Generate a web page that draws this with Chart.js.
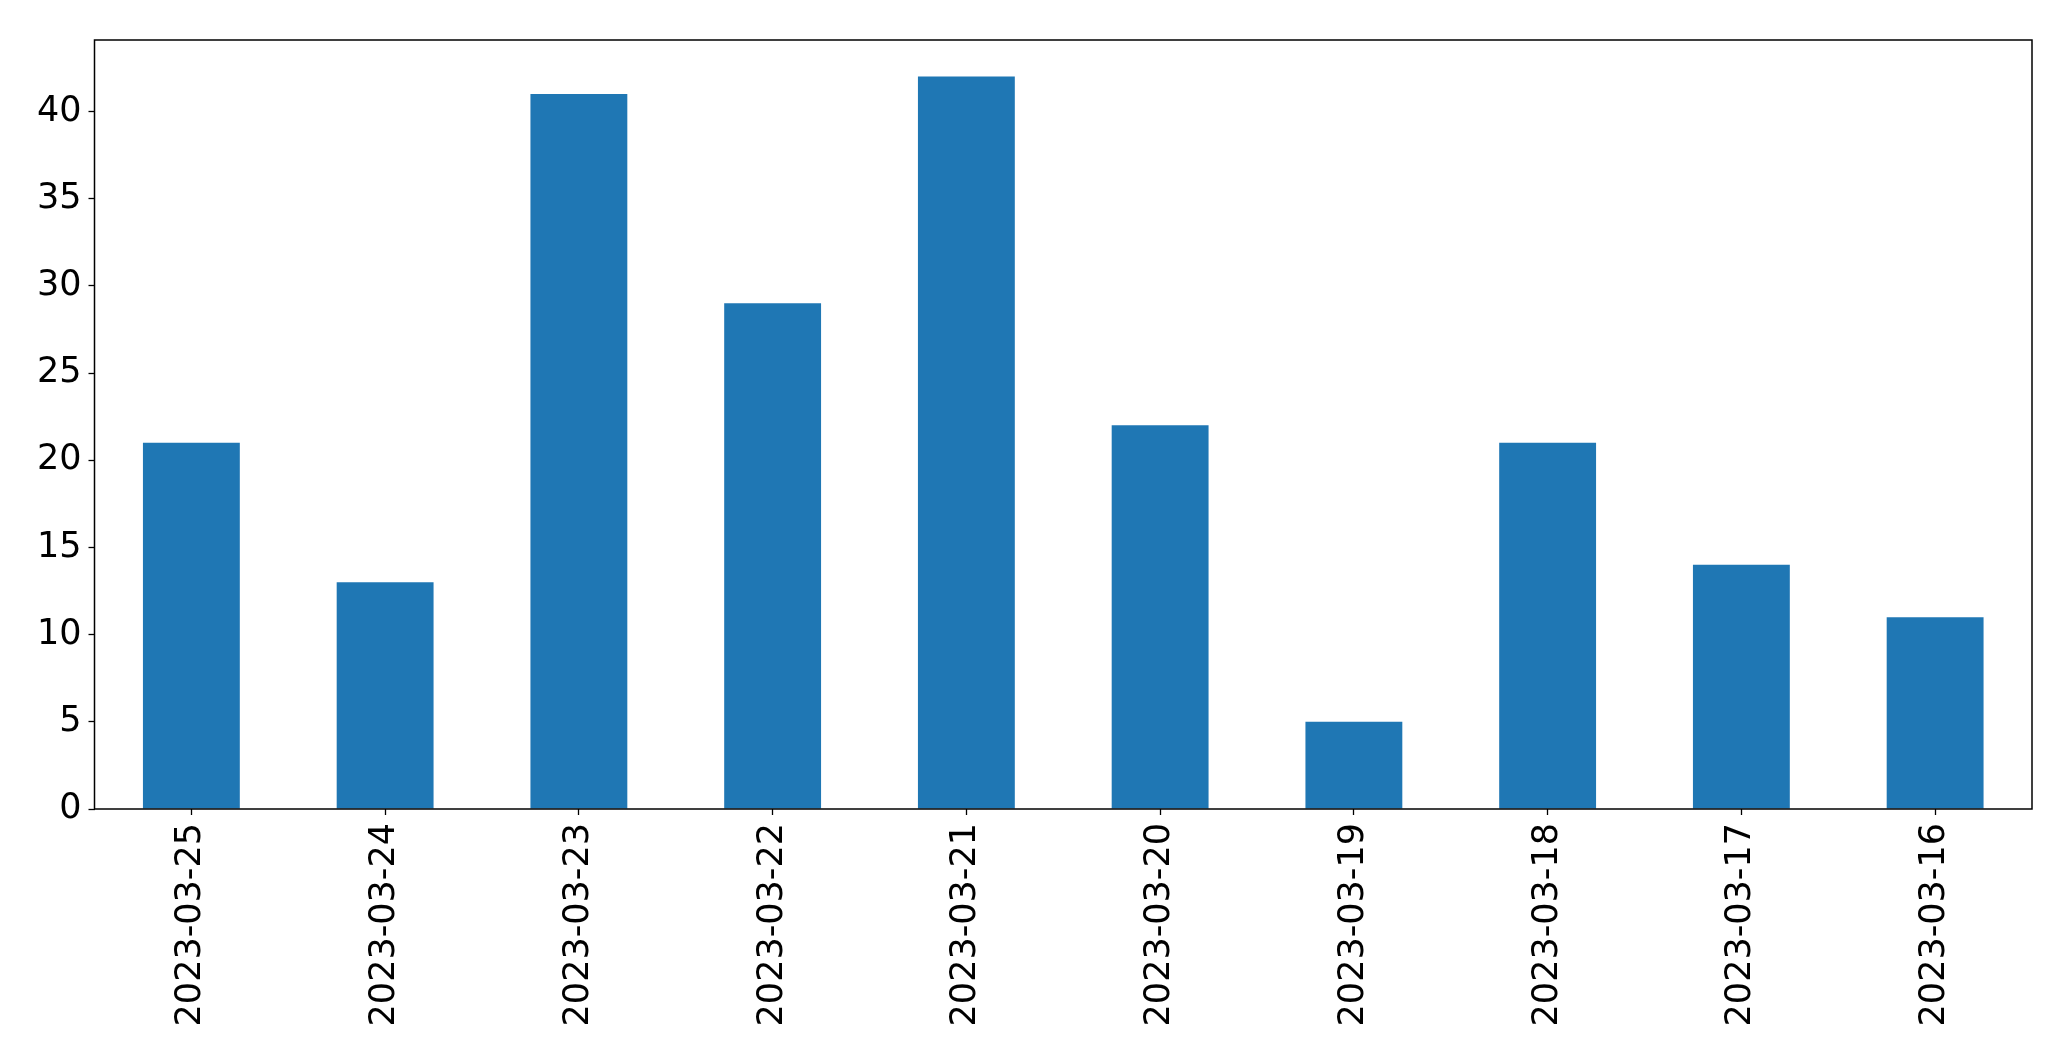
<!DOCTYPE html>
<html>
<head>
<meta charset="utf-8">
<script src="https://cdn.jsdelivr.net/npm/chart.js@4/dist/chart.umd.min.js"></script>
<style>
  html, body { margin: 0; padding: 0; background: #fff; }
  #wrap { width: 2071px; height: 1061px; }
</style>
</head>
<body>
<div id="wrap"><canvas id="myChart" width="2071" height="1061"></canvas></div>
<script>
const dias = ['2023-03-25', '2023-03-24', '2023-03-23', '2023-03-22', '2023-03-21',
	'2023-03-20', '2023-03-19', '2023-03-18', '2023-03-17', '2023-03-16']
const contagem = [21, 13, 41, 29, 42, 22, 5, 21, 14, 11]
const yTicks = [0, 5, 10, 15, 20, 25, 30, 35, 40]

const fonte = { family: 'DejaVu Sans', size: 35 }

// moldura preta em volta da area do grafico
const moldura = {
	id: 'moldura',
	afterDraw(chart) {
		const a = chart.chartArea
		const c = chart.ctx
		c.save()
		c.strokeStyle = '#000'
		c.lineWidth = 1.5
		c.strokeRect(a.left, a.top, a.right - a.left, a.bottom - a.top)
		c.restore()
	}
}

const ctx = document.getElementById('myChart').getContext('2d')
new Chart(ctx, {
	type: 'bar',
	data: {
		labels: dias,
		datasets: [{
			data: contagem,
			backgroundColor: '#1f77b4',
			borderWidth: 0,
			barPercentage: 0.5,
			categoryPercentage: 1
		}]
	},
	options: {
		responsive: false,
		animation: false,
		layout: { padding: { top: 40, right: 39, left: 0, bottom: 0 } },
		plugins: { legend: { display: false }, tooltip: { enabled: false } },
		scales: {
			x: {
				grid: { display: true, drawOnChartArea: false, tickLength: 6, tickWidth: 1.3, color: '#000', offset: false },
				border: { display: false },
				ticks: { color: '#000', font: fonte, minRotation: 90, maxRotation: 90, padding: 8, autoSkip: false },
				afterFit(scale) { scale.height = 1061 - 809 }
			},
			y: {
				min: 0,
				max: 44.1,
				grid: { display: true, drawOnChartArea: false, tickLength: 6, tickWidth: 1.3, color: '#000' },
				border: { display: false },
				ticks: { color: '#000', font: fonte, stepSize: 5, padding: 7 },
				afterBuildTicks(scale) {
					scale.ticks = yTicks.map(v => ({ value: v }))
				},
				afterFit(scale) { scale.width = 94.5 }
			}
		}
	},
	plugins: [moldura]
})
</script>
</body>
</html>
